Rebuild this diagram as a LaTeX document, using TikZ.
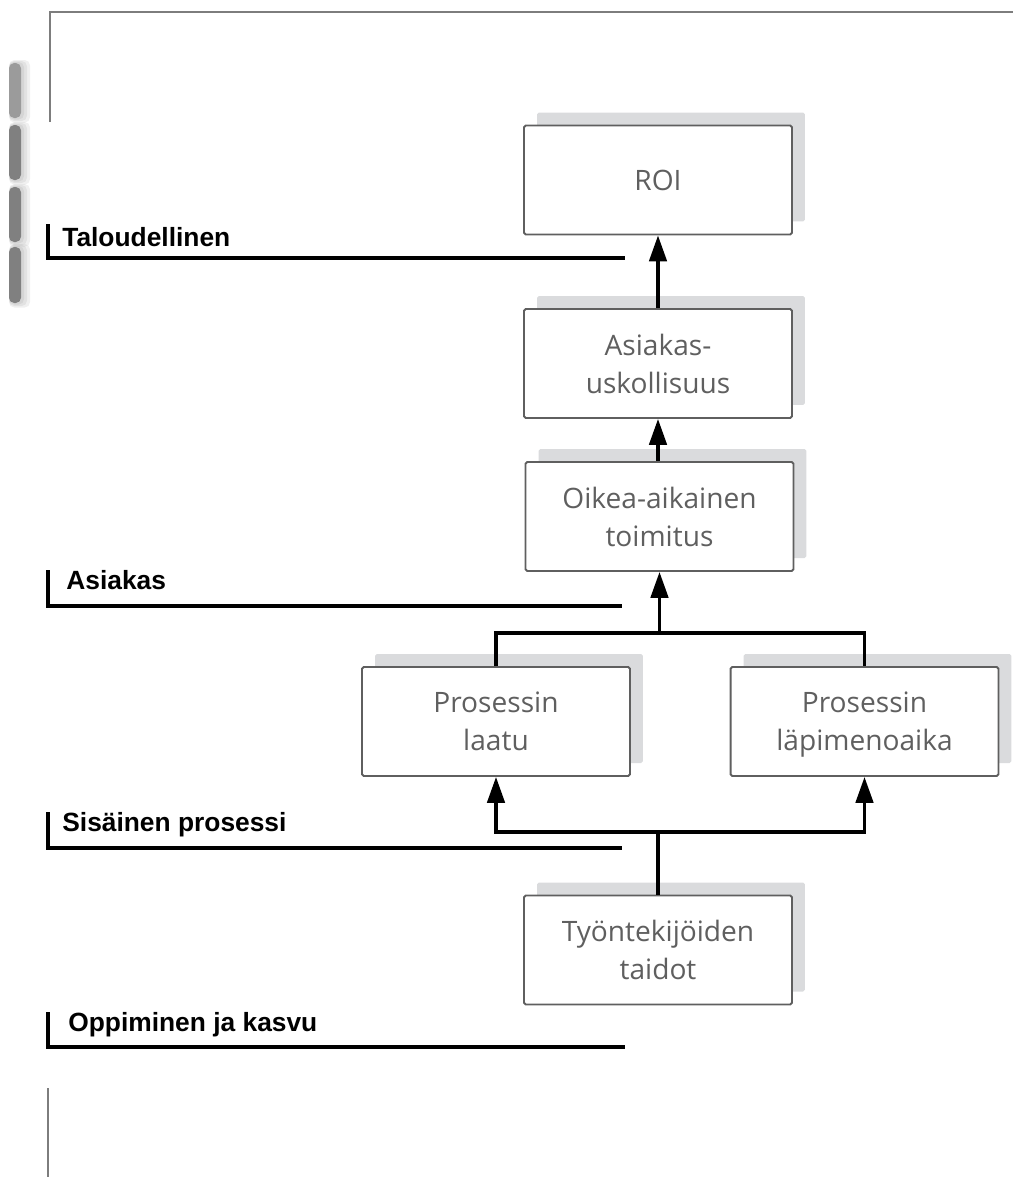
\documentclass[tikz,border=0pt]{standalone}
\usepackage{fontspec}
\setmainfont{Open Sans}
\newfontfamily\labelfont{Liberation Sans}
\usepackage{xcolor}
\definecolor{bsgray}{RGB}{95,95,95}
\definecolor{bsframe}{RGB}{125,125,125}
\definecolor{bsshadow}{RGB}{218,219,221}
\definecolor{bstab}{RGB}{128,128,128}
\definecolor{bstablight}{RGB}{155,155,155}
\usepackage{tikz}
\usetikzlibrary{arrows.meta, positioning, shadows}

\tikzset{
  goal/.style={draw=bsgray, line width=1.1pt, fill=white, rounded corners=1pt,
    minimum width=5.36cm, minimum height=2.18cm, align=center, inner sep=0pt,
    text depth=0pt, font=\fontsize{16}{21.5}\selectfont, text=bsgray,
    drop shadow={shadow xshift=0.26cm, shadow yshift=0.26cm, opacity=1, fill=bsshadow}},
  link/.style={line width=1.9pt, -{Triangle[length=0.52cm, width=0.35cm]}},
  tree/.style={line width=1.9pt},
  perspective/.style={font=\labelfont\bfseries\fontsize{15}{17}\selectfont,
    anchor=base west, inner sep=0pt},
  bracket/.style={line width=2pt},
  tab/.style={rounded corners=3pt}
}

\begin{document}
\begin{tikzpicture}[x=0.02cm, y=-0.02cm]
  \useasboundingbox (0,0) rectangle (1013,1177);

  % Page frame
  \draw[bsframe, line width=1.1pt] (50,122) -- (50,12) -- (1013,12);
  \draw[bsframe, line width=1.1pt] (48,1088) -- (48,1177);

  % Side tabs (soft shadow, then tab)
  \foreach \ytop/\ybot/\tabcol in {63/118/bstablight, 125/180/bstab, 187/242/bstab, 247/303/bstab} {
    \foreach \spread in {9,6,3}
      \fill[black, opacity=.06, tab] (9,\ytop-\spread/3) rectangle (21+\spread,\ybot+\spread/2);
    \fill[\tabcol, tab] (9,\ytop) rectangle (21,\ybot);
  }

  % Perspectives
  \node[perspective] (talous) at (62,246)  {Taloudellinen};
  \node[perspective] (asiakas) at (66,589) {Asiakas};
  \node[perspective] (prosessi) at (62,831) {Sisäinen prosessi};
  \node[perspective] (oppiminen) at (68,1031) {Oppiminen ja kasvu};

  \draw[bracket] (48,224) -- (48,258) -- (625,258);
  \draw[bracket] (48,570) -- (48,606) -- (622,606);
  \draw[bracket] (48,812) -- (48,848) -- (622,848);
  \draw[bracket] (48,1012) -- (48,1047) -- (625,1047);

  % Objectives
  \node[goal] (roi)      at (658,180)   {ROI};
  \node[goal] (uskoll)   at (658,363.5) {Asiakas-\\uskollisuus};
  \node[goal] (toimitus) at (659.5,516.5) {Oikea-aikainen\\toimitus};
  \node[goal] (laatu)    at (496,721.5) {Prosessin\\laatu};
  \node[goal] (lapimeno) at (864.5,721.5) {Prosessin\\läpimenoaika};
  \node[goal] (taidot)   at (658,950)   {Työntekijöiden\\taidot};

  % Cause and effect
  \draw[link] (uskoll.north) -- (roi.south);
  \draw[link] (toimitus.north -| uskoll.south) -- (uskoll.south);

  \coordinate (upper) at (toimitus.south |- 0,633);
  \draw[tree] (laatu.north) |- (upper) -| (lapimeno.north);
  \draw[link] (upper) -- (toimitus.south);

  \coordinate (lower) at (taidot.north |- 0,832);
  \draw[tree] (taidot.north) -- (lower);
  \draw[link] (lower) -| (laatu.south);
  \draw[link] (lower) -| (lapimeno.south);
\end{tikzpicture}
\end{document}
